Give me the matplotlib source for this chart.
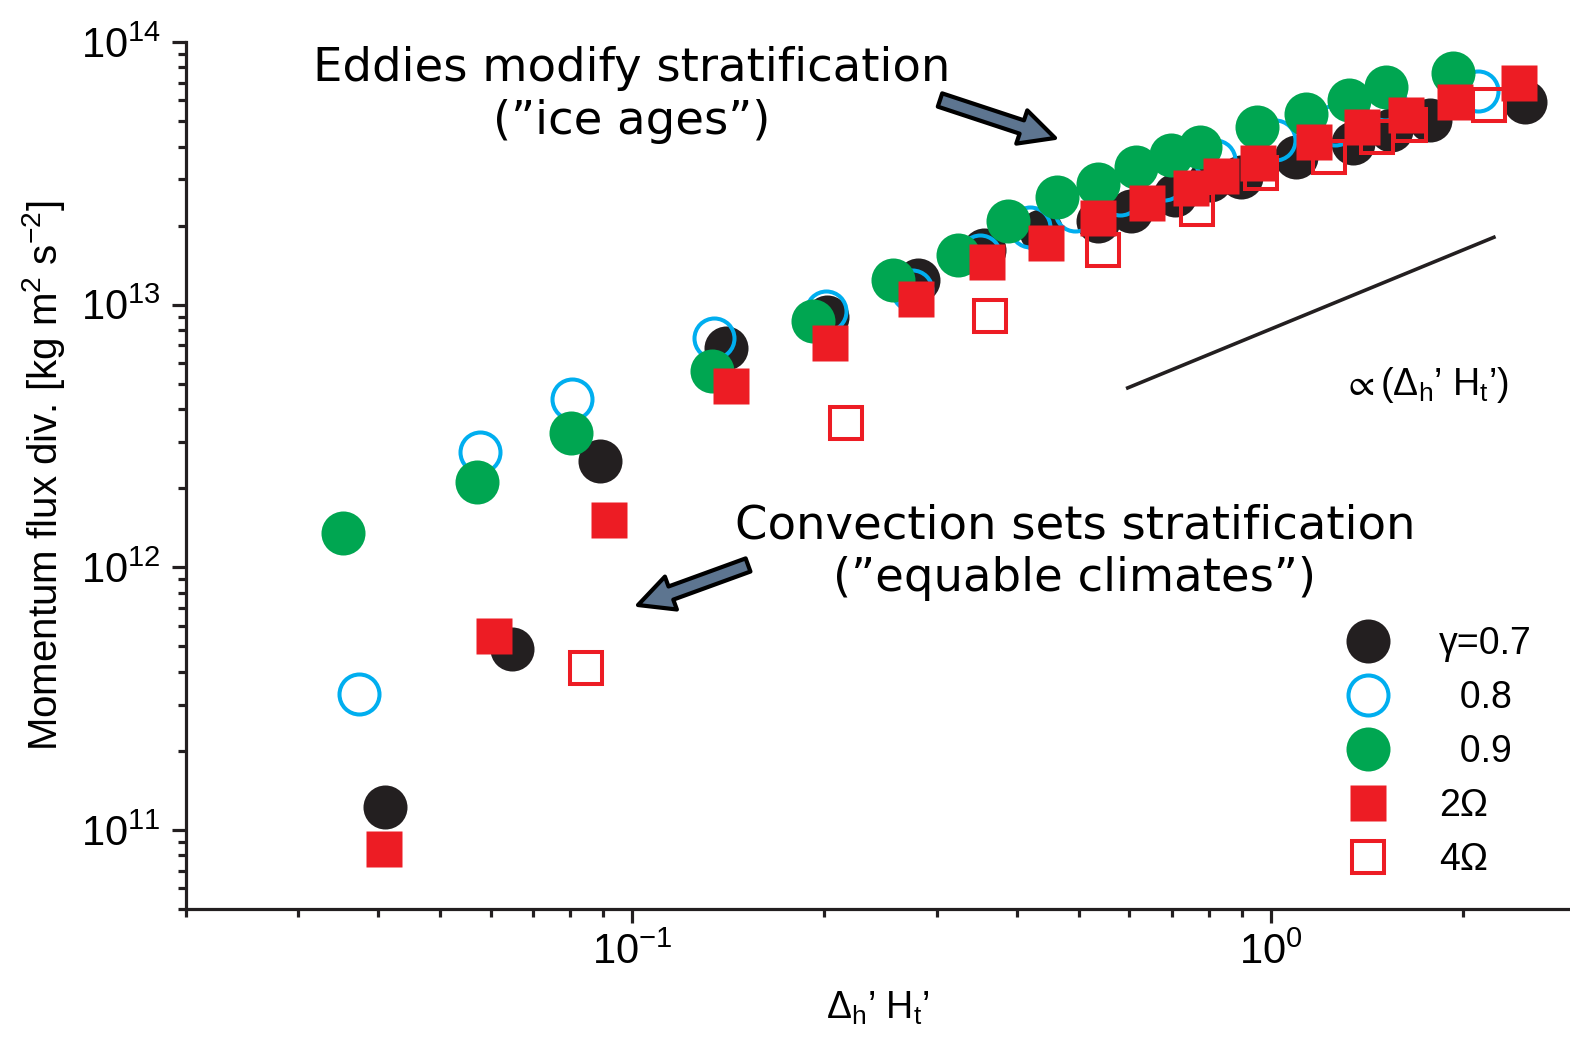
import numpy as np
import matplotlib
matplotlib.use("Agg")
import matplotlib.pyplot as plt
from matplotlib.lines import Line2D
from matplotlib.ticker import LogLocator, NullFormatter
from matplotlib.patches import FancyArrowPatch

# ---------------- data ----------------
g07_x = [0.041, 0.0649, 0.0891, 0.1404, 0.202, 0.280, 0.356, 0.436, 0.536, 0.604,
         0.708, 0.802, 0.897, 1.094, 1.344, 1.54, 1.775, 2.50]
g07_y = [1.22e11, 4.87e11, 2.54e12, 6.86e12, 9.0e12, 1.24e13, 1.61e13, 1.91e13, 2.09e13, 2.28e13,
         2.61e13, 2.97e13, 3.06e13, 3.64e13, 4.12e13, 4.61e13, 5.04e13, 5.9e13]

g08_x = [0.0373, 0.0578, 0.0805, 0.1345, 0.201, 0.274, 0.350, 0.419, 0.493, 0.58,
         0.68, 0.817, 1.014, 1.26, 1.51, 2.11]
g08_y = [3.3e11, 2.75e12, 4.37e12, 7.48e12, 9.49e12, 1.14e13, 1.54e13, 1.97e13, 2.28e13, 2.61e13,
         2.97e13, 3.55e13, 4.23e13, 4.82e13, 6.0e13, 6.5e13]

g09_x = [0.0352, 0.0571, 0.0802, 0.1334, 0.192, 0.256, 0.324, 0.387, 0.462, 0.537,
         0.614, 0.699, 0.774, 0.951, 1.135, 1.325, 1.514, 1.93]
g09_y = [1.35e12, 2.11e12, 3.24e12, 5.6e12, 8.7e12, 1.24e13, 1.55e13, 2.09e13, 2.56e13, 2.87e13,
         3.33e13, 3.71e13, 3.97e13, 4.74e13, 5.31e13, 6.01e13, 6.73e13, 7.62e13]

om2_x = [0.0409, 0.0608, 0.092, 0.143, 0.204, 0.278, 0.359, 0.444, 0.537, 0.641,
         0.751, 0.835, 0.954, 1.168, 1.39, 1.63, 1.94, 2.45]
om2_y = [8.46e10, 5.46e11, 1.52e12, 4.91e12, 7.16e12, 1.05e13, 1.45e13, 1.71e13, 2.13e13, 2.43e13,
         2.77e13, 3.1e13, 3.45e13, 4.15e13, 4.74e13, 5.26e13, 5.9e13, 6.98e13]

om4_x = [0.0847, 0.216, 0.363, 0.547, 0.766, 0.965, 1.233, 1.466, 1.65, 2.2]
om4_y = [4.15e11, 3.55e12, 9.08e12, 1.61e13, 2.32e13, 3.16e13, 3.64e13, 4.33e13, 4.82e13, 5.75e13]

# reference slope-1 line
ref_x = [0.597, 2.236]
ref_y = [4.82e12, 1.805e13]

legend_labels = ["\u03b3=0.7", "  0.8", "  0.9", "2\u03a9", "4\u03a9"]

# ---------------- style ----------------
plt.rcParams['font.family'] = ['Liberation Sans', 'DejaVu Sans']
plt.rcParams['mathtext.fontset'] = 'custom'
plt.rcParams['mathtext.rm'] = 'Liberation Sans'
plt.rcParams['mathtext.it'] = 'Liberation Sans:italic'
plt.rcParams['mathtext.default'] = 'regular'

BLACK = '#231f20'
BLUE = '#00aeef'
GREEN = '#00a651'
RED = '#ed1c24'

W, H = 1570, 1046
fig = plt.figure(figsize=(W / 100, H / 100), dpi=100)
ax = fig.add_axes([186 / W, (H - 909) / H, (W - 186) / W, (909 - 42) / H])
ax.set_xscale('log')
ax.set_yscale('log')
ax.set_xlim(0.02, 10 ** ((1570 - 1271) / 638))
ax.set_ylim(5e10, 1e14)

for s in ['top', 'right']:
    ax.spines[s].set_visible(False)
for s in ['left', 'bottom']:
    ax.spines[s].set_linewidth(2.3)
    ax.spines[s].set_color(BLACK)

ax.xaxis.set_major_locator(LogLocator(base=10))
ax.xaxis.set_minor_locator(LogLocator(base=10, subs=np.arange(2, 10)))
ax.yaxis.set_major_locator(LogLocator(base=10))
ax.yaxis.set_minor_locator(LogLocator(base=10, subs=np.arange(2, 10)))
ax.xaxis.set_minor_formatter(NullFormatter())
ax.yaxis.set_minor_formatter(NullFormatter())
ax.tick_params(which='major', length=10, width=2.3, color=BLACK, labelsize=30, direction='out')
ax.tick_params(which='minor', length=5.5, width=2.3, color=BLACK, direction='out')
ax.tick_params(axis='x', which='major', pad=7)
ax.tick_params(axis='y', which='major', pad=8)

ms_c = 31.7
ms_sq = 25.9
ax.plot(g07_x, g07_y, ls='none', marker='o', ms=ms_c, mfc=BLACK, mec='none', zorder=3)
ax.plot(g08_x, g08_y, ls='none', marker='o', ms=ms_c - 2.9, mfc='none', mec=BLUE, mew=2.9, zorder=4)
ax.plot(g09_x, g09_y, ls='none', marker='o', ms=ms_c, mfc=GREEN, mec='none', zorder=5)
ax.plot(om2_x, om2_y, ls='none', marker='s', ms=ms_sq, mfc=RED, mec='none', zorder=6)
ax.plot(om4_x, om4_y, ls='none', marker='s', ms=ms_sq - 2.9, mfc='none', mec=RED, mew=2.9, zorder=7)
ax.plot(ref_x, ref_y, color=BLACK, lw=2.6, zorder=2)

ax.set_ylabel("Momentum flux div. [kg m$^2$ s$^{-2}$]", fontsize=29, labelpad=10)
ax.set_xlabel("$\\Delta_h$\u2019 $H_t$\u2019", fontsize=27, labelpad=12)

ax.text(0.8952, 0.6044, "$\\propto(\\Delta_h$\u2019 $H_t$\u2019$)$", transform=ax.transAxes,
        fontsize=27, ha='center', va='center')

ann_font = ['DejaVu Sans']
ax.text(0.3223, 0.9389, "Eddies modify stratification\n(\u201dice ages\u201d)", transform=ax.transAxes,
        fontsize=33.5, ha='center', va='center', multialignment='center', family=ann_font, linespacing=1.22)
ax.text(0.6423, 0.4118, "Convection sets stratification\n(\u201dequable climates\u201d)", transform=ax.transAxes,
        fontsize=33.5, ha='center', va='center', multialignment='center', family=ann_font, linespacing=1.22)

arrow_style = "simple,head_length=0.7,head_width=0.7,tail_width=0.28"
for tail, tip in [((0.5448, 0.9331), (0.6279, 0.8893)), ((0.4061, 0.3968), (0.3266, 0.3506))]:
    arr = FancyArrowPatch(tail, tip, transform=ax.transAxes, arrowstyle=arrow_style,
                          mutation_scale=36, fc='#5d7590', ec='black', lw=3,
                          shrinkA=0, shrinkB=0, zorder=8)
    ax.add_patch(arr)

handles = [
    Line2D([], [], ls='none', marker='o', ms=ms_c, mfc=BLACK, mec='none'),
    Line2D([], [], ls='none', marker='o', ms=ms_c - 2.9, mfc='none', mec=BLUE, mew=2.9),
    Line2D([], [], ls='none', marker='o', ms=ms_c, mfc=GREEN, mec='none'),
    Line2D([], [], ls='none', marker='s', ms=ms_sq, mfc=RED, mec='none'),
    Line2D([], [], ls='none', marker='s', ms=ms_sq - 2.9, mfc='none', mec=RED, mew=2.9),
]
leg = ax.legend(handles, legend_labels, loc='upper left', bbox_to_anchor=(1345 / W, (H - 626) / H),
                bbox_transform=fig.transFigure, frameon=False, fontsize=27, handlelength=1.2,
                handletextpad=1.3, labelspacing=0.48, borderpad=0, borderaxespad=0)

fig.savefig("out.png", dpi=100)
